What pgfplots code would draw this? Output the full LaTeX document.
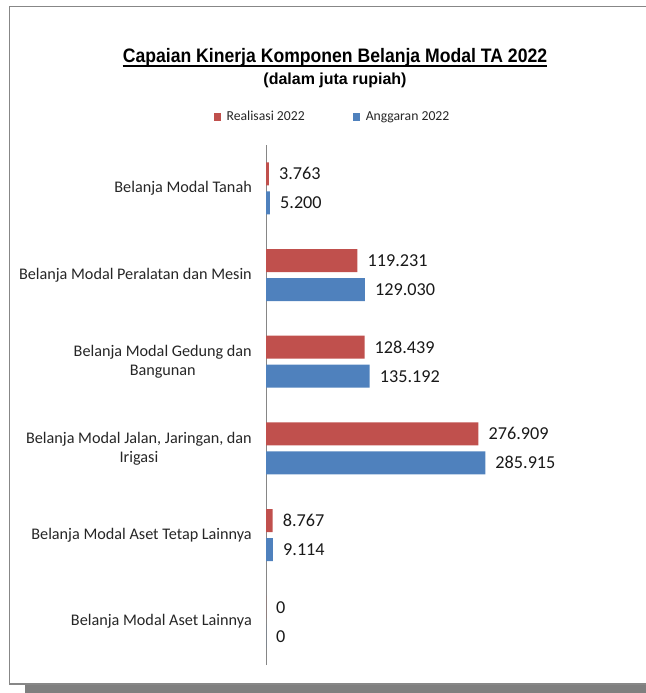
\documentclass[border=0pt]{standalone}
\usepackage{pgfplots}
\pgfplotsset{compat=1.18}
\usepackage{fontspec}
\setmainfont{Carlito}
\newfontfamily\titlefont{Liberation Sans}
\usepackage{graphicx}
\definecolor{cred}{HTML}{C0504D}
\definecolor{cblue}{HTML}{4F81BD}
\definecolor{framec}{HTML}{878787}
\definecolor{shadowc}{HTML}{7F7F7F}
\definecolor{axisc}{HTML}{868686}

\pgfplotstableread{
pos real ang
0 0 0
1 8767 9114
2 276909 285915
3 128439 135192
4 119231 129030
5 3763 5200
}\datatab

\begin{document}
\begin{tikzpicture}[x=1pt,y=1pt]
\useasboundingbox (0,0) rectangle (645,693);
% frame and shadow
\fill[shadowc] (25,0) rectangle (650,9);
\draw[framec, line width=1.1pt] (650,9) -- (9.3,9) -- (9.3,686.5) -- (650,686.5);
% title
\node (t) [anchor=base, inner sep=0pt] at (335,630) {\titlefont\bfseries\fontsize{19.5}{23}\selectfont\scalebox{0.903}[1]{Capaian Kinerja Komponen Belanja Modal TA 2022}};
\draw[line width=1.5pt] ([yshift=-3.2pt]t.base west) -- ([yshift=-3.2pt]t.base east);
\node [anchor=base, inner sep=0pt] at (335,608) {\titlefont\bfseries\fontsize{16}{19}\selectfont (dalam juta rupiah)};

\begin{axis}[
  at={(266pt,28pt)}, anchor=south west,
  scale only axis,
  width=306.8pt, height=520pt,
  xmin=0, xmax=400000,
  ymin=-0.5, ymax=5.5,
  xbar, bar width=23pt,
  axis x line=none,
  axis y line=left,
  axis line style={axisc, line width=0.9pt, -},
  ytick={0,1,2,3,4,5},
  major tick length=0pt,
  yticklabels={
    {Belanja Modal Aset Lainnya},
    {Belanja Modal Aset Tetap Lainnya},
    {Belanja Modal Jalan, Jaringan, dan\\Irigasi},
    {Belanja Modal Gedung dan\\Bangunan},
    {Belanja Modal Peralatan dan Mesin},
    {Belanja Modal Tanah}},
  yticklabel style={align=center, inner sep=0pt, xshift=-14pt,
     font=\fontsize{16.2}{19}\selectfont, text=black!85},
  nodes near coords,
  every node near coord/.append style={anchor=west, inner sep=0pt, xshift=10pt,
     font=\fontsize{18.2}{21}\selectfont, text=black!90},
  /pgf/number format/.cd, fixed, precision=0, 1000 sep={.}, assume math mode=true,
  /pgfplots/.cd,
  legend columns=2,
  legend style={at={(0.2167,1.054)}, anchor=center, draw=none, fill=none,
     font=\fontsize{13.7}{16}\selectfont, text=black!85,
     /tikz/every even column/.append style={column sep=46pt}},
]
\addplot[fill=cred, draw=none, bar shift=14.5pt,
  legend image code/.code={\fill[cred] (0pt,-3.75pt) rectangle (7.5pt,3.75pt); \path (11pt,0pt);}]
  table[x=real, y=pos] {\datatab};
\addlegendentry{Realisasi 2022}
\addplot[fill=cblue, draw=none, bar shift=-14.5pt,
  legend image code/.code={\fill[cblue] (0pt,-3.75pt) rectangle (7.5pt,3.75pt); \path (11pt,0pt);}]
  table[x=ang, y=pos] {\datatab};
\addlegendentry{Anggaran 2022}
\end{axis}
\end{tikzpicture}
\end{document}
